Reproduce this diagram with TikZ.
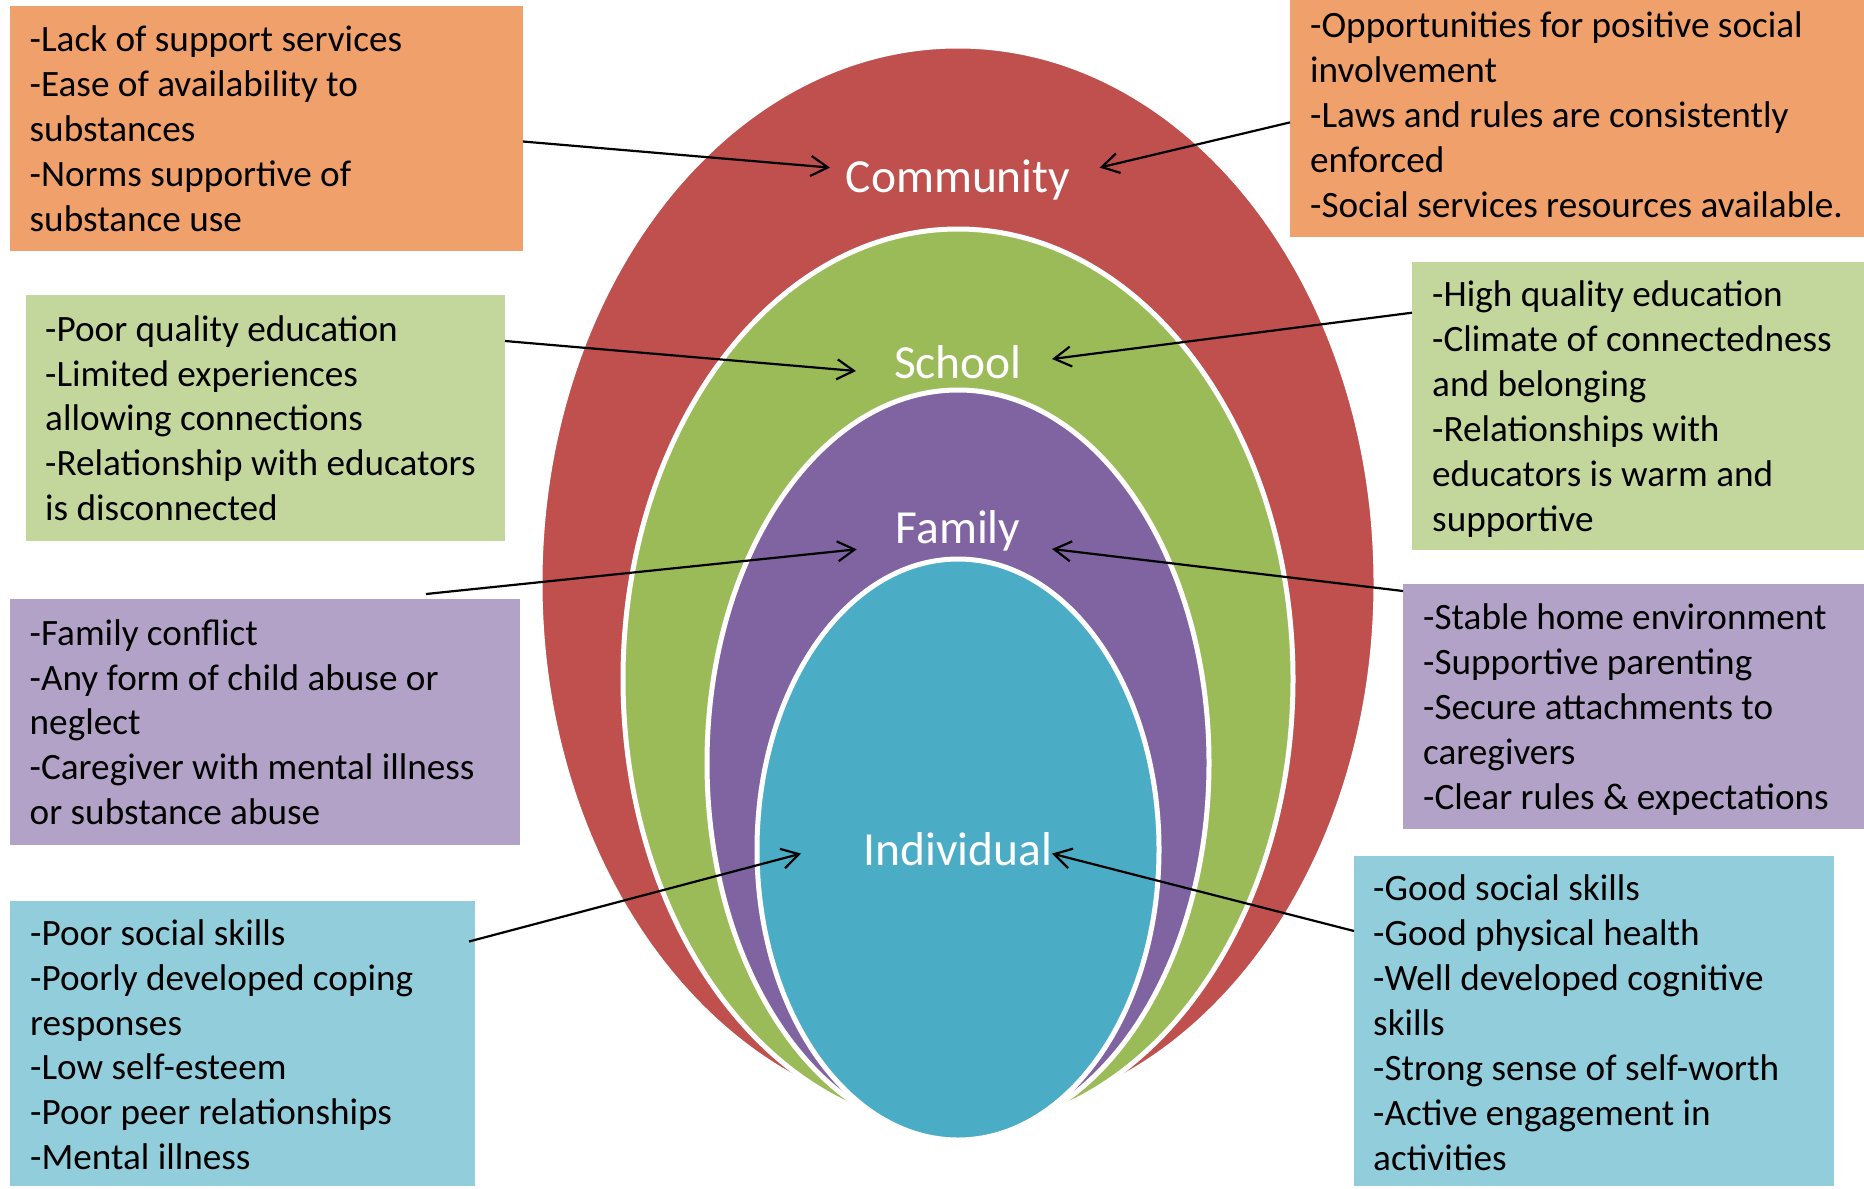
\documentclass[tikz,border=0pt]{standalone}
\usepackage{fontspec}
\setmainfont{Carlito}
\usetikzlibrary{calc,arrows.meta}
\definecolor{cred}{HTML}{C0504D}
\definecolor{cgreen}{HTML}{9BBB59}
\definecolor{cpurple}{HTML}{8064A2}
\definecolor{cblue}{HTML}{4BACC6}
\definecolor{borange}{HTML}{F0A06A}
\definecolor{bgreen}{HTML}{C3D69B}
\definecolor{bpurple}{HTML}{B3A2C7}
\definecolor{bblue}{HTML}{92CDDC}
\begin{document}
\begin{tikzpicture}[x=1bp,y=-1bp,
  ring/.style={draw=white,line width=5bp},
  box/.style={anchor=north west,inner sep=0pt,outer sep=0pt},
  boxtext/.style={anchor=west,inner sep=0pt,align=left,font=\fontsize{37.2bp}{44.9bp}\selectfont},
  lbl/.style={anchor=base,text=white,inner sep=0pt,font=\fontsize{47.5bp}{57bp}\selectfont},
  conn/.style={line width=2.2bp,-{Straight Barb[length=17bp,width=20bp]}},
]
\useasboundingbox (0,0) rectangle (1864,1188);
\fill[white] (0,0) rectangle (1864,1188);

% nested ellipses
\filldraw[fill=cred,ring] (958,583) ellipse [x radius=418bp,y radius=537bp];
\filldraw[fill=cgreen,ring] (958,679) ellipse [x radius=335bp,y radius=450bp];
\filldraw[fill=cpurple,ring] (958,763) ellipse [x radius=251bp,y radius=373bp];
\filldraw[fill=cblue,ring] (958,849.5) ellipse [x radius=201bp,y radius=290.5bp];

% boxes
\node[box,fill=borange,minimum width=513.5bp,minimum height=245bp] (ol) at (9.5,6) {};
\node[box,fill=borange,minimum width=574bp,minimum height=237bp] (or) at (1290,0) {};
\node[box,fill=bgreen,minimum width=479bp,minimum height=246bp] (gl) at (26,295) {};
\node[box,fill=bgreen,minimum width=452bp,minimum height=288bp] (gr) at (1412,262) {};
\node[box,fill=bpurple,minimum width=510bp,minimum height=246bp] (pl) at (9.5,599) {};
\node[box,fill=bpurple,minimum width=461bp,minimum height=245bp] (pr) at (1403,584) {};
\node[box,fill=bblue,minimum width=465bp,minimum height=285bp] (bl) at (10,901) {};
\node[box,fill=bblue,minimum width=480bp,minimum height=330bp] (br) at (1354,856) {};

% box texts
\node[boxtext] (olt) at ($(ol.west)+(20,4)$) {\strut-Lack of support services\\-Ease of availability to\\substances\\-Norms supportive of\\substance use\strut};
\node[boxtext] (ort) at ($(or.west)+(20,0)$) {\strut-Opportunities for positive social\\involvement\\-Laws and rules are consistently\\enforced\\-Social services resources available.\strut};
\node[boxtext] (glt) at ($(gl.west)+(19,4)$) {\strut-Poor quality education\\-Limited experiences\\allowing connections\\-Relationship with educators\\is disconnected\strut};
\node[boxtext] (grt) at ($(gr.west)+(20,4)$) {\strut-High quality education\\-Climate of connectedness\\and belonging\\-Relationships with\\educators is warm and\\supportive\strut};
\node[boxtext] (plt) at ($(pl.west)+(20,4)$) {\strut-Family conflict\\-Any form of child abuse or\\neglect\\-Caregiver with mental illness\\or substance abuse\strut};
\node[boxtext] (prt) at ($(pr.west)+(20,4)$) {\strut-Stable home environment\\-Supportive parenting\\-Secure attachments to\\caregivers\\-Clear rules \& expectations\strut};
\node[boxtext] (blt) at ($(bl.west)+(20,5)$) {\strut-Poor social skills\\-Poorly developed coping\\responses\\-Low self-esteem\\-Poor peer relationships\\-Mental illness\strut};
\node[boxtext] (brt) at ($(br.west)+(19,5.5)$) {\strut-Good social skills\\-Good physical health\\-Well developed cognitive\\skills\\-Strong sense of self-worth\\-Active engagement in\\activities\strut};

% labels
\node[lbl] (lc) at (958,192.7) {Community};
\node[lbl] (ls) at (958,378.3) {School};
\node[lbl] (lf) at (958,543.3) {Family};
\node[lbl] (li) at (958,865) {Individual};

% arrow tips
\coordinate (t1) at (830,167.6);
\coordinate (t2) at (1099.6,167.6);
\coordinate (t3) at (856,371);
\coordinate (t4) at (1052,359);
\coordinate (t5) at (856.7,549.3);
\coordinate (t6) at (1052,549);
\coordinate (t7) at (801,853.6);
\coordinate (t8) at (1052,853.6);

% connectors
\draw[conn] ($(ol.east)+(0,13)$) -- (t1);
\draw[conn] ($(or.west)+(0,3.9)$) -- (t2);
\draw[conn] ($(gl.east)+(0,-77)$) -- (t3);
\draw[conn] ($(gr.west)+(0,-93.3)$) -- (t4);
\draw[conn] ($(pl.north east)+(-93.5,-5)$) -- (t5);
\draw[conn] ($(pr.west)+(0,-115.5)$) -- (t6);
\draw[conn] ($(bl.east)+(-6,-102)$) -- (t7);
\draw[conn] ($(br.west)+(0,-90)$) -- (t8);
\end{tikzpicture}
\end{document}
